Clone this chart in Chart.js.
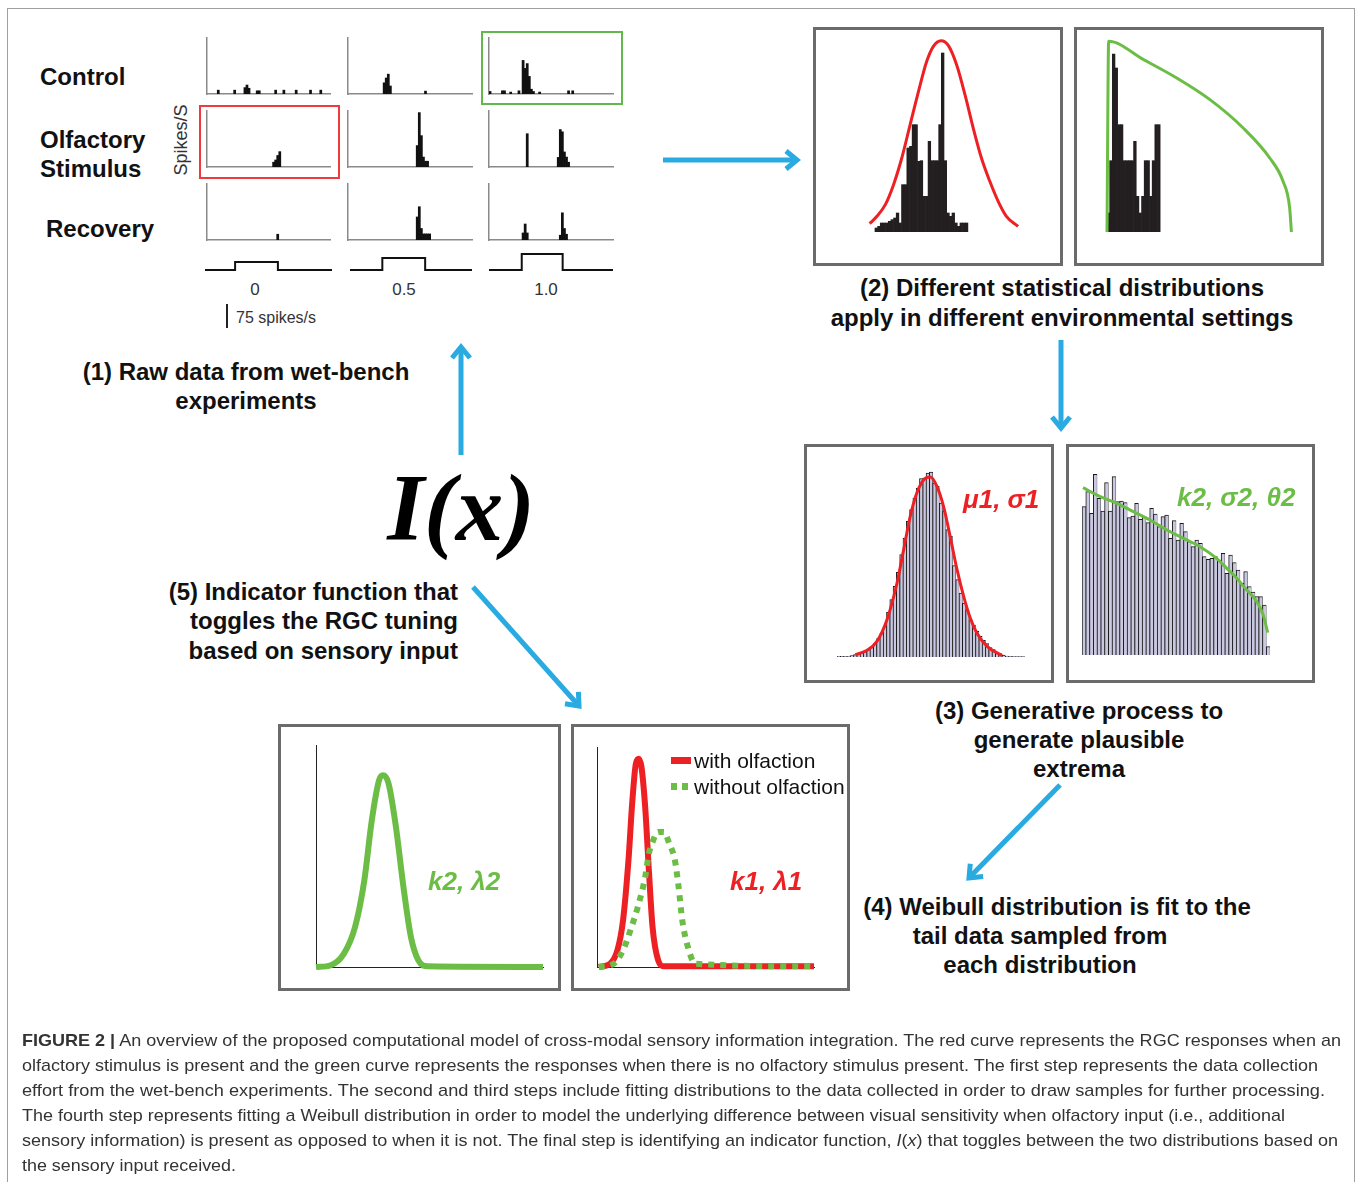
<!DOCTYPE html>
<html>
<head>
<meta charset="utf-8">
<title>Figure 2</title>
<script src="https://cdn.jsdelivr.net/npm/chart.js@4.4.1/dist/chart.umd.min.js"></script>
<style>
  html, body { margin: 0; padding: 0; background: #fff; }
  body { position: relative; width: 1358px; height: 1182px; overflow: hidden; font-family: Arial, "Liberation Sans", Helvetica, sans-serif; color: #111; }
  .abs { position: absolute; }
  .frame { left: 7px; top: 8px; width: 1346px; height: 1300px; border: 1px solid #a0a0a0; }
  .box { border: 3px solid #6b6b6b; box-sizing: border-box; }
  .lbl { white-space: nowrap; }
  .cap { white-space: nowrap; transform-origin: 0 50%; }
</style>
</head>
<body>
<div class="abs frame"></div>
<script>
// =======================
// DATA
// =======================

// (1) spike histograms, 60 bins per trace, spikes/s
const spikeMax = 175;
const controlStim0  = [0,0,0,0,0,12,0,0,0,0, 0,0,0,12,0,0,0,0,20,28, 18,0,0,0,10,10,0,0,0,0, 0,0,0,12,0,0,0,12,0,0, 0,0,0,12,0,0,0,0,0,0, 12,0,0,0,0,12,0,0,0,0];
const controlStim05 = [0,0,0,0,0,0,0,0,0,0, 0,0,0,0,0,0,0,35,50,62, 25,0,0,0,0,0,0,0,0,0, 0,0,0,0,0,0,0,9,0,0, 0,0,0,0,0,0,0,0,0,0, 0,0,0,0,0,0,0,0,0,0];
const controlStim10 = [8,0,0,0,0,0,10,10,0,0, 6,0,0,0,10,0,105,80,95,55, 15,8,0,0,6,0,0,0,0,0, 0,0,0,0,0,0,0,0,10,0, 10,0,0,0,0,0,0,0,0,0, 0,0,0,0,0,0,0,0,0,0];
const olfactStim0   = [0,0,0,0,0,0,0,0,0,0, 0,0,0,0,0,0,0,0,0,0, 0,0,0,0,0,0,0,0,0,0, 0,0,15,22,36,48,0,0,0,0, 0,0,0,0,0,0,0,0,0,0, 0,0,0,0,0,0,0,0,0,0];
const olfactStim05  = [0,0,0,0,0,0,0,0,0,0, 0,0,0,0,0,0,0,0,0,0, 0,0,0,0,0,0,0,0,0,0, 0,0,0,67,170,98,31,18,18,0, 0,0,0,0,0,0,0,0,0,0, 0,0,0,0,0,0,0,0,0,0];
const olfactStim10  = [0,0,0,0,0,0,0,0,0,0, 0,0,0,0,0,0,0,0,104,0, 0,0,0,0,0,0,0,0,0,0, 0,0,0,30,117,110,47,31,15,0, 0,0,0,0,0,0,0,0,0,0, 0,0,0,0,0,0,0,0,0,0];
const recoveryStim0 = [0,0,0,0,0,0,0,0,0,0, 0,0,0,0,0,0,0,0,0,0, 0,0,0,0,0,0,0,0,0,0, 0,0,0,0,18,0,0,0,0,0, 0,0,0,0,0,0,0,0,0,0, 0,0,0,0,0,0,0,0,0,0];
const recoveryStim05= [0,0,0,0,0,0,0,0,0,0, 0,0,0,0,0,0,0,0,0,0, 0,0,0,0,0,0,0,0,0,0, 0,0,0,72,104,36,19,19,19,19, 0,0,0,0,0,0,0,0,0,0, 0,0,0,0,0,0,0,0,0,0];
const recoveryStim10= [0,0,0,0,0,0,0,0,0,0, 0,0,0,0,0,0,22,50,22,0, 0,0,0,0,0,0,0,0,0,0, 0,0,0,0,15,85,36,18,0,0, 0,0,0,0,0,0,0,0,0,0, 0,0,0,0,0,0,0,0,0,0];

// stimulus traces (time in % of trace, level)
const stimLabels = ['0', '0.5', '1.0'];
const stimOn = [23.7, 26.5, 26.4];
const stimOff = [57.4, 61.6, 59.4];
const stimLevel = [8, 12, 16];

// (2) fitted distributions on the raw data
const normalHist = [0,0,0,12,17,27,27,27,32,37, 42,57,27,142,142,252,257,322,322,212, 214,107,107,272,214,214,214,322,537,214, 57,47,57,27,17,27,27,27,0,0, 0,0,0,0,0,0,0,0,0,0, 0,0,0,0,0,0,0,0];
const normalFitX = [0.5, 3.25, 6.4, 9.5, 12.6, 15.75, 18.9, 22, 24.5, 27.4, 30.1, 33.25, 36.4, 39.5, 42.6, 45.75, 48.9, 52, 56.4];
const normalFitY = [25, 47, 82, 142, 222, 322, 422, 512, 557, 574, 560, 502, 412, 312, 222, 152, 92, 47, 17];
const tailHist = [57,214,534,492,322,322,214,214,214,214, 272,107,57,107,214,214,107,214,322,322, 0,0,0,0,0,0,0,0,0,0, 0,0,0,0,0,0,0,0,0,0, 0,0,0,0,0,0,0,0,0,0, 0,0,0,0,0,0,0,0,0,0, 0,0,0,0,0,0,0,0,0,0];
const tailFitX = [-0.5, 0.125, 13.25, 25.75, 38.25, 50.75, 60.75, 65.75, 68.25, 68.9];
const tailFitY = [0, 572, 517, 462, 397, 312, 222, 152, 72, 0];

// (3) generated samples
const sampleNormal = [2,2,2,2,4,7,10,12,16,22, 28,40,55,70,92,134,172,212,254,307, 357,407,442,477,507,535,537,552,555,522, 512,462,437,382,362,274,232,192,162,140, 112,96,77,62,50,40,28,22,15,10, 6,3,2,2,1,1,1];
const sampleNormalFitX = [5.06, 8.6, 11.6, 14.65, 17.7, 19.7, 21.7, 23.7, 25.8, 27.8, 29.8, 31.8, 33.8, 35.9, 37.9, 39.9, 41.9, 45, 49.5];
const sampleNormalFitY = [7, 20, 47, 112, 222, 322, 422, 492, 532, 540, 512, 452, 362, 262, 182, 117, 72, 32, 4];
const sampleGpd = [445,490,425,542,470,432,517,432,535,460, 462,457,412,417,455,407,413,397,440,423, 385,415,420,350,403,345,395,370,340,325, 345,335,295,287,290,295,285,305,245,300, 277,255,215,250,205,189,175,175,150,25];
const sampleGpdFitX = [-0.23, 4.37, 8.79, 13.2, 17.6, 22.1, 26.5, 30.9, 35.3, 38, 40.65, 43.3, 46, 47.7, 48.9];
const sampleGpdFitY = [502, 475, 455, 430, 405, 375, 350, 325, 290, 260, 230, 195, 160, 120, 67];

// (4) Weibull fits
const weibull2X = [0, 6.5, 12.3, 17.2, 21.3, 24.6, 27.8, 29.5, 31.9, 35.2, 38.5, 41.8, 45.1, 49.2, 100];
const weibull2Y = [0, 0.8, 6.0, 18.0, 39.1, 66.2, 84.2, 86.4, 82.9, 63.2, 36.2, 13.6, 3.0, 0.3, 0];
const withOlfX = [0.8, 6.0, 9.4, 12.0, 14.5, 16.2, 17.9, 19.3, 20.5, 22.2, 23.9, 25.6, 28.2, 30.8, 100];
const withOlfY = [0, 1.5, 7.6, 21.2, 48.5, 74.2, 92.4, 94.7, 90.9, 72.7, 44.0, 18.2, 3.0, 0.3, 0.3];
const withoutOlfX = [0.8, 7.7, 12.0, 15.4, 18.8, 22.2, 23.9, 25.6, 28.2, 30.8, 33.3, 35.9, 37.6, 39.3, 41.9, 45.3, 100];
const withoutOlfY = [0, 1.5, 7.6, 16.7, 27.3, 40.9, 51.5, 56.8, 61.4, 61.4, 56.1, 48.5, 36.4, 21.2, 9.1, 1.5, 0.3];

// =======================
// STYLE
// =======================
const RED = '#ed2024';
const GREEN = '#6cbd45';
const BLUE = '#29abe2';
const INK = '#231f20';

// =======================
// HELPERS
// =======================
function makeChart(area, pad, config) {
    const c = document.createElement('canvas');
    c.className = 'abs';
    c.width = area.w + 2 * pad;
    c.height = area.h + 2 * pad;
    c.style.left = (area.x - pad) + 'px';
    c.style.top = (area.y - pad) + 'px';
    document.body.appendChild(c);
    config.options = Object.assign({
        responsive: false,
        animation: false,
        events: [],
        layout: { padding: pad },
        plugins: { legend: { display: false }, tooltip: { enabled: false } }
    }, config.options);
    return new Chart(c, config);
}

function thinAxis(color, width, extra) {
    return Object.assign({
        display: true,
        grid: { display: false, drawTicks: false },
        ticks: { display: false },
        border: { display: true, color: color, width: width }
    }, extra || {});
}

function addDiv(cls, x, y, w, h, style) {
    const d = document.createElement('div');
    d.className = 'abs ' + cls;
    d.style.left = x + 'px';
    d.style.top = y + 'px';
    d.style.width = w + 'px';
    d.style.height = h + 'px';
    Object.assign(d.style, style || {});
    document.body.appendChild(d);
    return d;
}

function label(text, x, cy, o) {
    o = o || {};
    const size = o.size || 24;
    const lh = Math.round(size * 1.2);
    const d = document.createElement('div');
    d.className = 'abs lbl';
    d.innerHTML = text;
    d.style.fontSize = size + 'px';
    d.style.lineHeight = lh + 'px';
    d.style.fontWeight = o.weight || 'bold';
    d.style.fontStyle = o.style || 'normal';
    d.style.color = o.color || '#111';
    if (o.family) d.style.fontFamily = o.family;
    d.style.top = (cy - lh / 2) + 'px';
    d.style.left = x + 'px';
    const shift = o.align === 'center' ? '-50%' : o.align === 'right' ? '-100%' : '0';
    d.style.transform = 'translateX(' + shift + ')' + (o.rotate ? ' rotate(' + o.rotate + 'deg)' : '');
    document.body.appendChild(d);
    return d;
}

function pts(xs, ys) {
    return xs.map((x, i) => ({ x: x, y: ys[i] }));
}

function curve(xs, ys, color, width, extra) {
    return Object.assign({
        data: pts(xs, ys),
        borderColor: color,
        borderWidth: width,
        pointRadius: 0,
        fill: false,
        cubicInterpolationMode: 'monotone',
        clip: false,
        borderCapStyle: 'butt'
    }, extra || {});
}

// empty bins stay invisible (no hairline at the base)
function barFill(color) {
    return ctx => (ctx.raw ? color : 'rgba(0,0,0,0)');
}

// histogram (bins) plus a fitted curve drawn on top, in bin units
function histWithFit(area, bins, barColor, barBorder, fitX, fitY, fitColor) {
    makeChart(area, 4, {
        type: 'bar',
        data: {
            labels: bins.map((_, i) => i),
            datasets: [{
                data: bins,
                backgroundColor: barFill(barColor),
                borderColor: barFill(barBorder || barColor),
                borderWidth: barBorder ? { left: 1, top: 1, right: 0.5, bottom: 0 } : 0,
                barPercentage: 1, categoryPercentage: 1
            }]
        },
        options: {
            scales: {
                x: { display: false },
                y: { display: false, min: 0, max: 600 }
            }
        }
    });
    makeChart(area, 4, {
        type: 'line',
        data: { datasets: [curve(fitX, fitY, fitColor, 3)] },
        options: {
            scales: {
                x: { type: 'linear', display: false, offset: false, min: -0.5, max: bins.length - 0.5 },
                y: { display: false, min: 0, max: 600 }
            }
        }
    });
}

// =======================
// FRAMES
// =======================
addDiv('box', 813, 27, 250, 239);
addDiv('box', 1074, 27, 250, 239);
addDiv('box', 804, 444, 250, 239);
addDiv('box', 1066, 444, 249, 239);
addDiv('box', 278, 724, 283, 267);
addDiv('box', 571, 724, 279, 267);
addDiv('', 199, 105, 141, 74, { border: '2px solid #ee3b3f', boxSizing: 'border-box' });
addDiv('', 481, 31, 142, 74, { border: '2px solid #62b84c', boxSizing: 'border-box' });

// =======================
// (1) RAW DATA PANELS
// =======================
const psthGrid = [
    [controlStim0, controlStim05, controlStim10],
    [olfactStim0, olfactStim05, olfactStim10],
    [recoveryStim0, recoveryStim05, recoveryStim10]
];
const psthColX = [207, 348, 489];
const psthColW = [123, 124, 124];
const psthRowY = [38, 111, 184];

psthGrid.forEach((row, r) => {
    row.forEach((values, c) => {
        makeChart({ x: psthColX[c], y: psthRowY[r], w: psthColW[c], h: 56 }, 3, {
            type: 'bar',
            data: {
                labels: values.map((_, i) => i),
                datasets: [{ data: values, backgroundColor: barFill('#111'), barPercentage: 1, categoryPercentage: 1 }]
            },
            options: {
                scales: {
                    x: thinAxis('#8a8a8a', 1.5),
                    y: thinAxis('#8a8a8a', 1.5, { min: 0, max: spikeMax })
                }
            }
        });
    });
});

const traceX = [205, 350, 489];
const traceW = [127, 122, 124];
stimLevel.forEach((lvl, i) => {
    const xs = [0, stimOn[i], stimOn[i], stimOff[i], stimOff[i], 100];
    const ys = [0, 0, lvl, lvl, 0, 0];
    makeChart({ x: traceX[i], y: 250, w: traceW[i], h: 20 }, 3, {
        type: 'line',
        data: { datasets: [curve(xs, ys, '#111', 2, { cubicInterpolationMode: 'default', tension: 0 })] },
        options: {
            scales: {
                x: { type: 'linear', display: false, min: 0, max: 100 },
                y: { display: false, min: 0, max: 20 }
            }
        }
    });
});

// =======================
// (2) DISTRIBUTIONS ON RAW DATA
// =======================
histWithFit({ x: 866.7, y: 32.3, w: 154.7, h: 200 }, normalHist, INK, null, normalFitX, normalFitY, RED);
histWithFit({ x: 1106.7, y: 32.3, w: 186.7, h: 200 }, tailHist, INK, null, tailFitX, tailFitY, GREEN);

// =======================
// (3) GENERATED SAMPLES
// =======================
histWithFit({ x: 836.7, y: 457.3, w: 188.3, h: 200 }, sampleNormal, '#c9c8e0', '#1a1a1a', sampleNormalFitX, sampleNormalFitY, RED);
histWithFit({ x: 1081.7, y: 455, w: 188.3, h: 200 }, sampleGpd, '#c9c8e0', '#1a1a1a', sampleGpdFitX, sampleGpdFitY, GREEN);

// =======================
// (4) WEIBULL FITS
// =======================
function weibullScales() {
    return {
        x: thinAxis('#222', 1, { type: 'linear', min: 0, max: 100 }),
        y: thinAxis('#222', 1, { min: 0, max: 100 })
    };
}
makeChart({ x: 316, y: 745, w: 227, h: 222 }, 8, {
    type: 'line',
    data: { datasets: [curve(weibull2X, weibull2Y, GREEN, 6)] },
    options: { scales: weibullScales() }
});
makeChart({ x: 597, y: 747, w: 217, h: 220 }, 8, {
    type: 'line',
    data: {
        datasets: [
            curve(withoutOlfX, withoutOlfY, GREEN, 6, { borderDash: [6, 6], order: 0, label: 'without olfaction' }),
            curve(withOlfX, withOlfY, RED, 6, { order: 1, label: 'with olfaction' })
        ]
    },
    options: { scales: weibullScales() }
});

// legend
addDiv('', 671, 757, 20, 7, { background: RED });
addDiv('', 671, 783, 20, 7, { background: 'repeating-linear-gradient(90deg,' + GREEN + ' 0 6px, transparent 6px 11px)' });
label('with olfaction', 694, 760, { size: 21, weight: 'normal', color: '#111' });
label('without olfaction', 694, 786, { size: 21, weight: 'normal', color: '#111' });

// =======================
// TEXT
// =======================
label('Control', 40, 76);
label('Olfactory', 40, 139);
label('Stimulus', 40, 168);
label('Recovery', 46, 228);
label('Spikes/S', 181, 140, { size: 18, weight: 'normal', color: '#333', align: 'center', rotate: -90 });
stimLabels.forEach((t, i) => label(t, [255, 404, 546][i], 290, { size: 17, weight: 'normal', color: '#333', align: 'center' }));
addDiv('', 226, 304, 2, 24, { background: '#222' });
label('75 spikes/s', 236, 317, { size: 16, weight: 'normal', color: '#333' });

label('(2) Different statistical distributions', 1062, 287, { align: 'center' });
label('apply in different environmental settings', 1062, 317, { align: 'center' });
label('(1) Raw data from wet-bench', 246, 371, { align: 'center' });
label('experiments', 246, 400, { align: 'center' });
label('(5) Indicator function that', 458, 591, { align: 'right' });
label('toggles the RGC tuning', 458, 620, { align: 'right' });
label('based on sensory input', 458, 650, { align: 'right' });
label('(3) Generative process to', 1079, 710, { align: 'center' });
label('generate plausible', 1079, 739, { align: 'center' });
label('extrema', 1079, 768, { align: 'center' });
label('(4) Weibull distribution is fit to the', 1057, 906, { align: 'center' });
label('tail data sampled from', 1040, 935, { align: 'center' });
label('each distribution', 1040, 964, { align: 'center' });

label('μ1, σ1', 963, 499, { size: 26, style: 'italic', color: RED });
label('k2, σ2, θ2', 1177, 497, { size: 26, style: 'italic', color: GREEN });
label('k2, λ2', 428, 881, { size: 26, style: 'italic', color: GREEN });
label('k1, λ1', 730, 881, { size: 26, style: 'italic', color: RED });

label('I(x)', 461, 508, { size: 95, style: 'italic', family: '"Liberation Serif", "Times New Roman", serif', color: '#000', align: 'center' });

// arrows
const svgNS = 'http://www.w3.org/2000/svg';
const svg = document.createElementNS(svgNS, 'svg');
svg.setAttribute('width', 1358);
svg.setAttribute('height', 1182);
svg.setAttribute('class', 'abs');
svg.style.left = '0px';
svg.style.top = '0px';
document.body.appendChild(svg);
const arrows = [
    [[663, 160], [797, 160]],
    [[1061, 340], [1061, 428]],
    [[461, 455], [461, 347]],
    [[473, 587], [579, 706]],
    [[1060, 785], [969, 878]]
];
arrows.forEach(([a, b]) => {
    const dx = b[0] - a[0], dy = b[1] - a[1];
    const len = Math.hypot(dx, dy);
    const ux = dx / len, uy = dy / len;
    const bx = b[0] - ux * 11, by = b[1] - uy * 11;
    const w1 = [bx - uy * 9, by + ux * 9], w2 = [bx + uy * 9, by - ux * 9];
    const shaft = document.createElementNS(svgNS, 'line');
    shaft.setAttribute('x1', a[0]); shaft.setAttribute('y1', a[1]);
    shaft.setAttribute('x2', b[0] - ux * 2); shaft.setAttribute('y2', b[1] - uy * 2);
    shaft.setAttribute('stroke', BLUE); shaft.setAttribute('stroke-width', 5);
    svg.appendChild(shaft);
    const head = document.createElementNS(svgNS, 'polyline');
    head.setAttribute('points', w1.join(',') + ' ' + b.join(',') + ' ' + w2.join(','));
    head.setAttribute('fill', 'none'); head.setAttribute('stroke', BLUE);
    head.setAttribute('stroke-width', 5); head.setAttribute('stroke-linejoin', 'miter');
    svg.appendChild(head);
});

// caption
const captionLines = [
    ['<b>FIGURE 2 |</b> An overview of the proposed computational model of cross-modal sensory information integration. The red curve represents the RGC responses when an', 1341],
    ['olfactory stimulus is present and the green curve represents the responses when there is no olfactory stimulus present. The first step represents the data collection', 1318],
    ['effort from the wet-bench experiments. The second and third steps include fitting distributions to the data collected in order to draw samples for further processing.', 1325],
    ['The fourth step represents fitting a Weibull distribution in order to model the underlying difference between visual sensitivity when olfactory input (i.e., additional', 1285],
    ['sensory information) is present as opposed to when it is not. The final step is identifying an indicator function, <i>I</i>(<i>x</i>) that toggles between the two distributions based on', 1338],
    ['the sensory input received.', 236]
];
captionLines.forEach(([html, right], i) => {
    const d = label(html, 22, 1041 + i * 25, { size: 17, weight: 'normal', color: '#333' });
    d.className = 'abs cap';
    d.style.transform = 'none';
    const w = d.getBoundingClientRect().width;
    d.style.transform = 'scaleX(' + ((right - 22) / w).toFixed(4) + ')';
});
</script>
</body>
</html>
